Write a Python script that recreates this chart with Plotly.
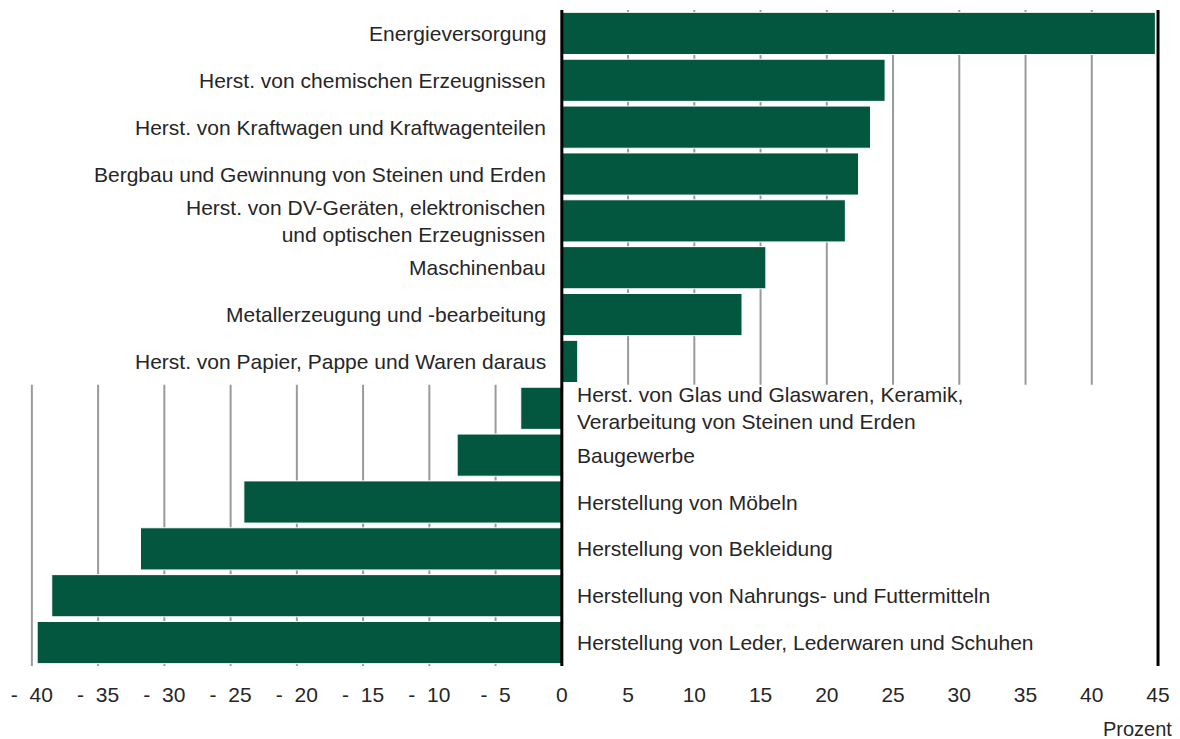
import plotly.graph_objects as go

categories = [
    "Energieversorgung",
    "Herst. von chemischen Erzeugnissen",
    "Herst. von Kraftwagen und Kraftwagenteilen",
    "Bergbau und Gewinnung von Steinen und Erden",
    "Herst. von DV-Geräten, elektronischen<br>und optischen Erzeugnissen",
    "Maschinenbau",
    "Metallerzeugung und -bearbeitung",
    "Herst. von Papier, Pappe und Waren daraus",
    "Herst. von Glas und Glaswaren, Keramik,<br>Verarbeitung von Steinen und Erden",
    "Baugewerbe",
    "Herstellung von Möbeln",
    "Herstellung von Bekleidung",
    "Herstellung von Nahrungs- und Futtermitteln",
    "Herstellung von Leder, Lederwaren und Schuhen",
]
values = [44.8, 24.4, 23.3, 22.4, 21.4, 15.4, 13.6, 1.2, -3.1, -7.9, -24.0, -31.8, -38.5, -39.6]

tick_vals = list(range(-40, 50, 5))
tick_text = [("-  " + str(-v)) if v < 0 else str(v) for v in tick_vals]

BAR = "#03573F"
GRID = "#9a9a9a"
TXT = "#262626"
FONT = "Liberation Sans, Arial, sans-serif"
FS = 21

n = len(categories)
ypos = list(range(n))

fig = go.Figure()
fig.add_trace(go.Bar(
    x=values, y=ypos, orientation="h",
    marker=dict(color=BAR, line=dict(color="#ffffff", width=1)),
    width=0.9, hoverinfo="x",
))

npos = sum(1 for v in values if v >= 0)
boundary = npos - 0.5

shapes = []
for v in tick_vals:
    if 0 < v < 45:
        shapes.append(dict(type="line", xref="x", yref="y", x0=v, x1=v, y0=-0.5, y1=boundary,
                           line=dict(color=GRID, width=2), layer="below"))
    elif v < 0:
        shapes.append(dict(type="line", xref="x", yref="y", x0=v, x1=v, y0=boundary, y1=n - 0.5,
                           line=dict(color=GRID, width=2), layer="below"))
for v in (0, 45):
    shapes.append(dict(type="line", xref="x", yref="y", x0=v, x1=v, y0=-0.5, y1=n - 0.5,
                       line=dict(color="#000000", width=3), layer="above"))

annotations = []
for i, (c, v) in enumerate(zip(categories, values)):
    if v >= 0:
        annotations.append(dict(x=0, y=i, xref="x", yref="y", text=c, showarrow=False,
                                xanchor="right", align="right", xshift=-14,
                                font=dict(family=FONT, size=FS, color=TXT)))
    else:
        annotations.append(dict(x=0, y=i, xref="x", yref="y", text=c, showarrow=False,
                                xanchor="left", align="left", xshift=13,
                                font=dict(family=FONT, size=FS, color=TXT)))
annotations.append(dict(x=1, y=0, xref="paper", yref="paper", text="Prozent", showarrow=False,
                        xanchor="right", yanchor="top", yshift=-50, xshift=12,
                        font=dict(family=FONT, size=FS - 1, color=TXT)))

fig.update_layout(
    width=1180, height=739,
    margin=dict(l=12, r=13, t=10, b=73),
    plot_bgcolor="#ffffff", paper_bgcolor="#ffffff",
    showlegend=False, bargap=0.1,
    xaxis=dict(range=[-41.5, 45.3], tickvals=tick_vals, ticktext=tick_text,
               showgrid=False, zeroline=False, showline=False, ticks="",
               tickfont=dict(family=FONT, size=FS, color=TXT), ticklabelstandoff=14),
    yaxis=dict(range=[n - 0.5, -0.5], showticklabels=False, showgrid=False,
               zeroline=False, showline=False, ticks=""),
    shapes=shapes, annotations=annotations,
)

fig.write_html("out.html", config={"displayModeBar": False},
               post_script="document.body.style.margin='0';document.body.style.overflow='hidden';")
